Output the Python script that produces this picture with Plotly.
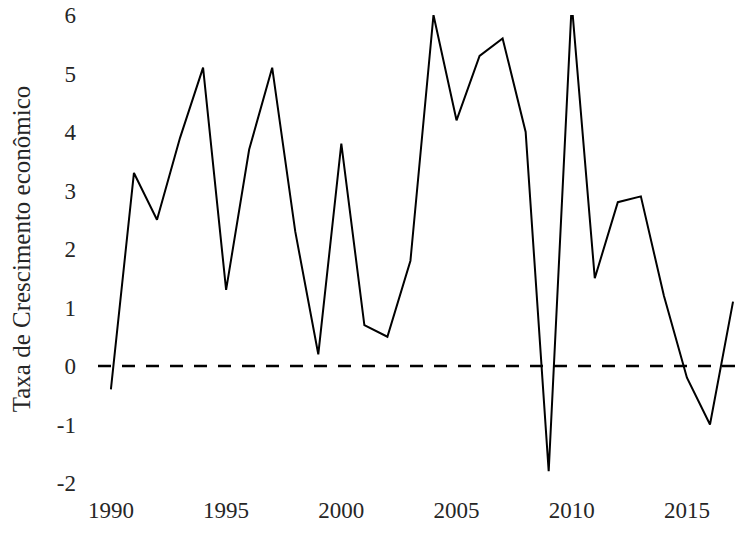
import plotly.graph_objects as go

years = list(range(1990, 2018))
growth = [-0.4, 3.3, 2.5, 3.9, 5.1, 1.3, 3.7, 5.1, 2.3, 0.2,
          3.8, 0.7, 0.5, 1.8, 6.0, 4.2, 5.3, 5.6, 4.0, -1.8,
          6.2, 1.5, 2.8, 2.9, 1.2, -0.2, -1.0, 1.1]
x_ticks = [1990, 1995, 2000, 2005, 2010, 2015]
y_ticks = [-2, -1, 0, 1, 2, 3, 4, 5, 6]
y_tick_labels = ["-2", "-1", "0", "1", "2", "3", "4", "5", "6"]
y_title = "Taxa de Crescimento econômico"

font_family = "'Liberation Serif', 'Times New Roman', 'DejaVu Serif', serif"
txt_color = "#262626"

fig = go.Figure()
fig.add_trace(go.Scatter(x=years, y=growth, mode="lines",
                         line=dict(color="black", width=2),
                         showlegend=False))
fig.add_hline(y=0, line=dict(color="black", width=2.5, dash="13px,11px"))

fig.update_layout(
    width=751, height=539,
    margin=dict(l=90, r=8, t=7, b=64),
    paper_bgcolor="white", plot_bgcolor="white",
    font=dict(family=font_family, size=23, color=txt_color),
    showlegend=False,
)
fig.update_xaxes(range=[1989.44, 2017.78], tickvals=x_ticks,
                 showgrid=False, zeroline=False, showline=False,
                 ticks="", ticklabelstandoff=11, ticklabeloverflow="allow",
                 tickfont=dict(family=font_family, size=23, color=txt_color))
fig.update_yaxes(range=[-2, 6], tickvals=y_ticks, ticktext=y_tick_labels,
                 showgrid=False, zeroline=False, showline=False,
                 ticks="", ticklabelstandoff=21, ticklabeloverflow="allow",
                 tickfont=dict(family=font_family, size=23, color=txt_color),
                 title=dict(text=y_title, standoff=19,
                            font=dict(family=font_family, size=25, color=txt_color)),
                 automargin=False)

fig.write_html("out.html")
